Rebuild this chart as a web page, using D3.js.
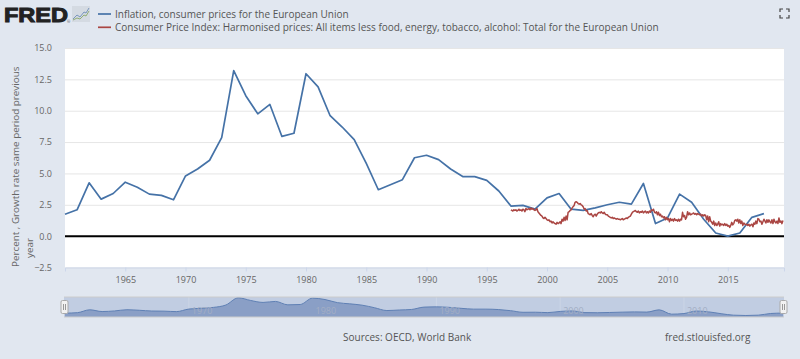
<!DOCTYPE html>
<html><head><meta charset="utf-8">
<script src="https://cdn.jsdelivr.net/npm/d3@7/dist/d3.min.js"></script>
<style>
html,body{margin:0;padding:0;background:#e1e7f0;overflow:hidden}
text{font-family:"Open Sans",sans-serif}
</style></head><body><svg id="c" width="800" height="359"></svg>
<script>
const firstYear = 1960;
const inflation = [1.75,2.1,4.25,2.95,3.4,4.3,3.9,3.35,3.25,2.9,4.8,5.35,6.05,7.85,13.2,11.2,9.75,10.5,7.95,8.2,12.95,11.9,9.6,8.7,7.7,5.8,3.7,4.1,4.5,6.25,6.45,6.1,5.35,4.75,4.75,4.45,3.6,2.4,2.45,2.15,3.05,3.4,2.15,2.05,2.25,2.5,2.7,2.55,4.2,1.0,1.45,3.35,2.7,1.35,0.25,0.0,0.25,1.5,1.8];
const coreStartYear = 1997;
const coreMonthly = [
2.1,2.05,2.0,2.1,2.05,2.1,2.0,2.05,2.15,2.05,2.1,2.0,
2.15,2.1,1.95,2.2,2.1,2.15,2.2,2.1,2.25,2.15,2.2,2.1,
2.05,2.1,2.2,1.95,1.85,1.75,1.65,1.6,1.45,1.4,1.5,1.4,
1.3,1.25,1.3,1.15,1.2,1.05,1.15,1.05,1.0,0.95,1.1,1.0,
1.05,1.15,1.0,1.35,1.2,1.5,1.25,1.6,1.3,1.9,1.95,2.05,
2.1,2.25,2.35,2.45,2.7,2.75,2.7,2.6,2.55,2.6,2.5,2.45,
2.35,2.15,2.2,2.0,2.05,1.8,1.75,1.7,1.8,1.65,1.55,1.7,
1.75,1.6,1.75,1.85,1.9,1.85,1.95,1.85,1.8,1.9,1.75,1.7,
1.7,1.6,1.55,1.5,1.45,1.5,1.4,1.45,1.4,1.35,1.4,1.35,
1.35,1.3,1.35,1.4,1.3,1.35,1.4,1.45,1.4,1.5,1.55,1.6,
1.75,1.9,1.95,2.0,2.05,1.95,1.9,2.0,1.85,1.95,1.9,2.0,
1.85,1.95,2.0,1.85,1.95,1.85,2.0,1.9,2.1,2.05,2.15,1.9,
1.85,1.95,1.7,1.9,1.65,1.75,1.55,1.6,1.45,1.55,1.3,1.5,
1.3,1.4,1.15,1.4,1.25,1.35,1.2,1.4,1.25,1.3,1.2,1.35,
1.2,1.35,1.3,1.9,1.55,1.65,1.35,1.5,1.95,1.7,1.85,1.7,
1.75,1.8,1.85,1.75,1.8,1.7,1.8,1.75,1.7,1.75,1.6,1.7,
1.6,1.7,1.65,1.3,1.6,1.15,1.55,1.2,1.1,0.95,1.2,0.85,
1.05,0.85,0.95,1.15,0.8,1.0,0.9,0.95,0.85,1.0,0.85,0.95,
0.8,0.85,0.7,0.85,1.1,0.9,1.0,1.25,1.3,1.2,1.35,1.05,
1.3,1.0,1.2,0.85,1.05,0.95,0.9,0.95,0.85,0.95,0.8,0.9,
0.95,0.75,1.05,0.95,1.2,1.0,1.4,1.35,1.15,1.2,0.95,1.15,
1.35,1.2,1.05,1.3,1.1,1.3,1.15,1.05,1.3,1.0,1.35,1.15,
1.05,1.2,1.0,1.45,1.1,1.2,1.0,1.25];
const yTicks = [-2.5,0,2.5,5,7.5,10,12.5,15];
const xTickYears = [1965,1970,1975,1980,1985,1990,1995,2000,2005,2010,2015];
const navTickYears = [1970,1980,1990,2000,2010];
const legendLabels = ["Inflation, consumer prices for the European Union","Consumer Price Index: Harmonised prices: All items less food, energy, tobacco, alcohol: Total for the European Union"];
const seriesColors = ["#4572a7","#aa4643"];
const yTitleLines = ["Percent , Growth rate same period previous","year"];
const sourceText = "Sources: OECD, World Bank";
const siteText = "fred.stlouisfed.org";

const d = (y,m=0)=>new Date(Date.UTC(y,m,1));
const annual = inflation.map((v,i)=>({t:d(firstYear+i),v}));
const monthly = coreMonthly.map((v,i)=>({t:d(coreStartYear,i),v}));

const L=65,R=784,T=48,B=267.5;
const svg=d3.select("#c");
const x=d3.scaleUtc().domain([d(1960),d(2019,8)]).range([L,R]);
const y=d3.scaleLinear().domain([-2.5,15]).range([B,T]);

svg.append("rect").attr("x",L).attr("y",T).attr("width",R-L).attr("height",B-T).attr("fill","#fff");

const yAxis=d3.axisLeft(y).tickValues(yTicks).tickFormat(d3.format(".1f")).tickSize(-(R-L)).tickPadding(13);
const gy=svg.append("g").attr("transform",`translate(${L},0)`).call(yAxis);
gy.select(".domain").remove();
gy.selectAll("line").attr("stroke","#e6e6e6");
gy.selectAll("text").attr("fill","#666").attr("font-size",9).style("font-family",'"Open Sans",sans-serif');

const xAxis=d3.axisBottom(x).tickValues(xTickYears.map(v=>d(v))).tickFormat(d3.utcFormat("%Y")).tickSize(4).tickPadding(5);
const gx=svg.append("g").attr("transform",`translate(0,${B})`).call(xAxis);
gx.select(".domain").attr("stroke","#ccd6eb");
gx.selectAll("line").attr("stroke","#ccd6eb");
gx.selectAll("text").attr("fill","#666").attr("font-size",9).style("font-family",'"Open Sans",sans-serif');

svg.append("line").attr("x1",L).attr("x2",R).attr("y1",y(0)).attr("y2",y(0)).attr("stroke","#000").attr("stroke-width",2);

const line=d3.line().x(p=>x(p.t)).y(p=>y(p.v));
svg.append("path").datum(annual).attr("d",line).attr("fill","none").attr("stroke",seriesColors[0]).attr("stroke-width",1.7).attr("stroke-linejoin","round");
svg.append("path").datum(monthly).attr("d",line).attr("fill","none").attr("stroke",seriesColors[1]).attr("stroke-width",1.5).attr("stroke-linejoin","round");

yTitleLines.forEach((s,i)=>{
  svg.append("text").text(s).attr("transform",`translate(${i?33:19},${i?258:267}) rotate(-90)`)
    .attr("font-size",9.85).attr("fill","#666");
});

legendLabels.forEach((s,i)=>{
  const yy=14+i*13.3;
  svg.append("line").attr("x1",98).attr("x2",111).attr("y1",yy).attr("y2",yy).attr("stroke",seriesColors[i]).attr("stroke-width",1.7);
  svg.append("text").text(s).attr("x",115).attr("y",yy+3.6).attr("font-size",10).attr("fill","#555");
});

const nT=297,nB=317;
const nx=d3.scaleUtc().domain([d(1960),d(2018)]).range([L,783]);
const ny=d3.scaleLinear().domain([0,13.2]).range([315.5,297.8]);
svg.append("rect").attr("x",64).attr("y",nT).attr("width",720).attr("height",nB-nT).attr("fill","#c1cde2");
navTickYears.forEach(v=>{
  svg.append("line").attr("x1",nx(d(v))).attr("x2",nx(d(v))).attr("y1",nT).attr("y2",nB).attr("stroke","#cbd5e6").attr("stroke-width",1);
});
const area=d3.area().x(p=>nx(p.t)).y0(nB).y1(p=>ny(p.v)).curve(d3.curveMonotoneX);
svg.append("path").datum(annual).attr("d",area).attr("fill","#8a9fc6");
svg.append("path").datum(annual).attr("d",d3.line().x(p=>nx(p.t)).y(p=>ny(p.v)).curve(d3.curveMonotoneX)).attr("fill","none").attr("stroke","#5f80b4").attr("stroke-width",1);
navTickYears.forEach(v=>{
  svg.append("text").text(v).attr("x",nx(d(v))+3).attr("y",314).attr("font-size",9).attr("fill","#a3aec4");
});
svg.append("line").attr("x1",64).attr("x2",784).attr("y1",nT).attr("y2",nT).attr("stroke","#ccc");
svg.append("line").attr("x1",64).attr("x2",784).attr("y1",nB).attr("y2",nB).attr("stroke","#ccc");
[64.5,783.5].forEach(cx=>{
  const h=svg.append("g").attr("transform",`translate(${cx},307)`);
  h.append("rect").attr("x",-3.5).attr("y",-6.5).attr("width",7).attr("height",13).attr("rx",1.5).attr("fill","#f2f2f2").attr("stroke","#aaa");
  h.append("line").attr("x1",-1).attr("x2",-1).attr("y1",-3).attr("y2",3).attr("stroke","#999");
  h.append("line").attr("x1",1).attr("x2",1).attr("y1",-3).attr("y2",3).attr("stroke","#999");
});

svg.append("text").text(sourceText).attr("x",343).attr("y",340.5).attr("font-size",10).attr("fill","#555");
svg.append("text").text(siteText).attr("x",665).attr("y",340.5).attr("font-size",10).attr("fill","#555");

svg.append("text").text("FRED").attr("x",4).attr("y",22).attr("font-size",20).attr("font-weight",700)
  .attr("textLength",64).attr("lengthAdjust","spacingAndGlyphs").attr("stroke","#222").attr("stroke-width",1)
  .style("font-family",'"Liberation Sans",sans-serif').attr("fill","#222");
svg.append("text").text("®").attr("x",67).attr("y",23).attr("font-size",4).attr("fill","#555");
svg.append("rect").attr("x",72).attr("y",6).attr("width",18).attr("height",16).attr("fill","#d4dae2");
svg.append("path").attr("d","M73,19 L77,15 L80,17 L84,12 L86,13 L89,8").attr("fill","none").attr("stroke","#6f8fb8").attr("stroke-width",0.9);
svg.append("path").attr("d","M73,20 L77,18 L80,19 L84,15 L86,16 L89,11").attr("fill","none").attr("stroke","#8aa86a").attr("stroke-width",0.9);

svg.append("path").attr("d","M780,12 V9 H783 M786,9 H789 V12 M789,15 V18 H786 M783,18 H780 V15").attr("fill","none").attr("stroke","#444").attr("stroke-width",1.2);
</script></body></html>
